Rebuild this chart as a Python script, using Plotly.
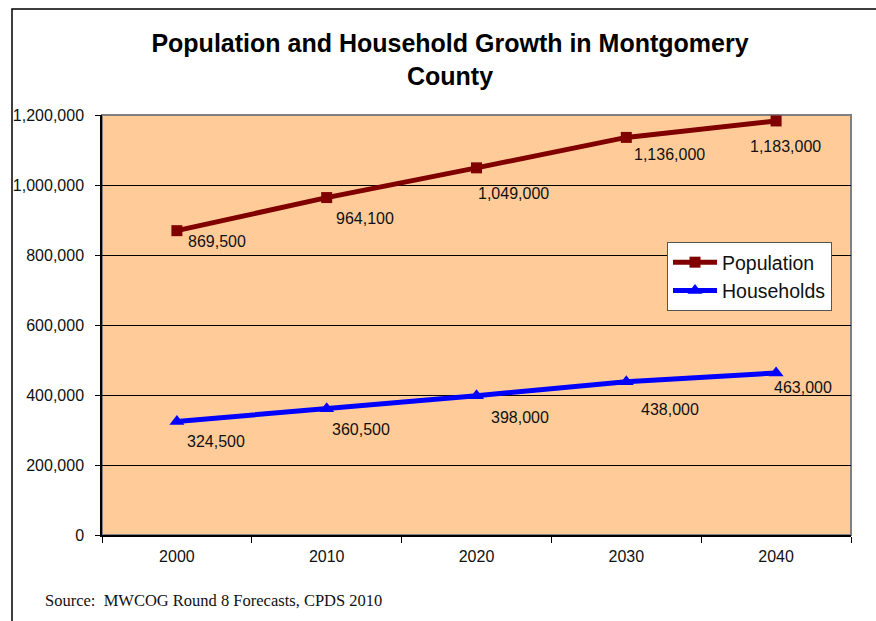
import plotly.graph_objects as go

# Forecast years and series values
years = ["2000", "2010", "2020", "2030", "2040"]
population = [869500, 964100, 1049000, 1136000, 1183000]
households = [324500, 360500, 398000, 438000, 463000]
y_ticks = [0, 200000, 400000, 600000, 800000, 1000000, 1200000]

# Pixel offsets of each value label from its point (x right, y down)
pop_label_offsets = [(40, 11), (38, 21), (37, 26), (43, 17), (9, 26)]
hh_label_offsets = [(39, 20), (34, 21), (43, 22), (44, 28), (27, 15)]

W, H = 876, 621
ML, MR, MT, MB = 102, 25, 115, 86
PW, PH = W - ML - MR, H - MT - MB

FONT = "Liberation Sans, Arial, sans-serif"
POP_COLOR = "#800000"
HH_COLOR = "#0000FF"

fig = go.Figure()
fig.add_trace(go.Scatter(
    x=years, y=population, name="Population", mode="lines+markers",
    line=dict(color=POP_COLOR, width=5),
    marker=dict(symbol="square", size=11, color=POP_COLOR),
))
fig.add_trace(go.Scatter(
    x=years, y=households, name="Households", mode="lines+markers",
    line=dict(color=HH_COLOR, width=5),
    marker=dict(symbol="triangle-up", size=13, color=HH_COLOR),
))

annotations = []
for series, offsets in ((population, pop_label_offsets), (households, hh_label_offsets)):
    for i, (val, (dx, dy)) in enumerate(zip(series, offsets)):
        # category axis: position by category index
        annotations.append(dict(
            x=i, y=val, xref="x", yref="y", text=f"{val:,}", showarrow=False,
            xanchor="center", yanchor="middle", xshift=dx, yshift=-dy,
            font=dict(family=FONT, size=16, color="#111111"),
        ))

annotations.append(dict(
    x=-59 / PW, y=-65 / PH, xref="paper", yref="paper", xanchor="left", yanchor="middle",
    text="Source:  MWCOG Round 8 Forecasts, CPDS 2010", showarrow=False,
    font=dict(family="Liberation Serif, Times New Roman, serif", size=16.5, color="#111111"),
))

shapes = [
    # outer chart frame
    dict(type="rect", xref="paper", yref="paper",
         x0=-90 / PW, x1=(W + 10 - ML) / PW, y0=-(H + 10 - MT - PH) / PH, y1=(PH + MT - 9) / PH,
         line=dict(color="#000000", width=1.5), fillcolor="rgba(0,0,0,0)", layer="below"),
    # plot area border (top and right)
    dict(type="rect", xref="paper", yref="paper", x0=0, x1=1, y0=0, y1=1,
         line=dict(color="#808080", width=2), fillcolor="rgba(0,0,0,0)", layer="below"),
]

fig.update_layout(
    width=W, height=H,
    margin=dict(l=ML, r=MR, t=MT, b=MB),
    paper_bgcolor="white", plot_bgcolor="#FFCC99",
    title=dict(
        text="<b>Population and Household Growth in Montgomery<br>County</b>",
        x=(450 - ML) / PW, xref="paper", xanchor="center",
        y=1 - 52 / H, yref="container", yanchor="top",
        font=dict(family=FONT, size=25, color="#000000"),
    ),
    showlegend=True,
    legend=dict(
        x=(667 - ML) / PW, y=(MT + PH - 242) / PH, xanchor="left", yanchor="top",
        bgcolor="white", bordercolor="#555555", borderwidth=1,
        font=dict(family=FONT, size=19.5, color="#111111"),
        tracegroupgap=0, itemwidth=44,
    ),
    xaxis=dict(
        type="category", range=[-0.5, 4.5], showgrid=False,
        showline=True, linecolor="#000000", linewidth=1.5,
        ticks="outside", tickson="boundaries", ticklen=6, tickcolor="#000000",
        tickfont=dict(family=FONT, size=16, color="#111111"),
        ticklabelstandoff=6,
    ),
    yaxis=dict(
        range=[0, 1200000], tickvals=y_ticks,
        ticktext=[f"{v:,}" for v in y_ticks],
        showgrid=True, gridcolor="#000000", gridwidth=1, zeroline=False,
        showline=True, linecolor="#000000", linewidth=1.5,
        ticks="outside", ticklen=5, tickcolor="#000000",
        tickfont=dict(family=FONT, size=16, color="#111111"),
        ticklabelstandoff=8,
    ),
    annotations=annotations,
    shapes=shapes,
)

fig.write_html("out.html")
